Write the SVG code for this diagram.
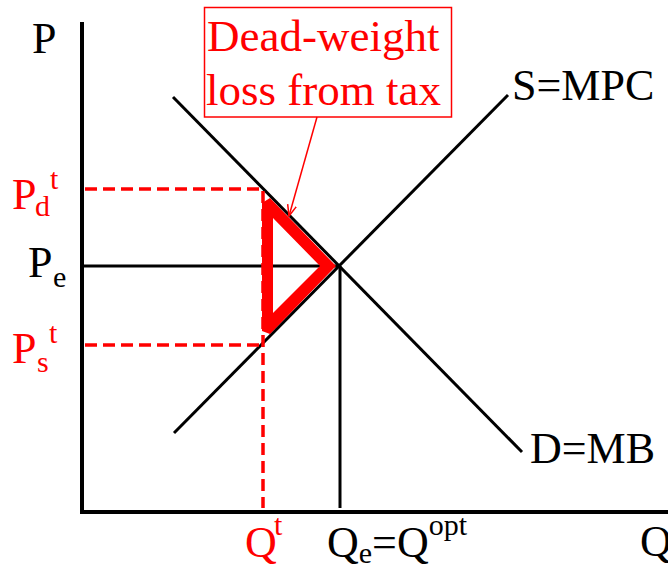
<svg xmlns="http://www.w3.org/2000/svg" width="668" height="565" viewBox="0 0 668 565">
<style>
text{font-family:'Liberation Serif','Times New Roman',serif;font-size:44px;}
.s{font-size:30px;}
.b{font-size:45px;}
.k{fill:#000;}
.r{fill:#ff0000;}
.ax{stroke:#000;stroke-width:4;fill:none;}
.ln{stroke:#000;stroke-width:3;fill:none;}
.dash{stroke:#ff0000;stroke-width:3.5;stroke-dasharray:12 6;fill:none;}
</style>
<defs>
<marker id="arr" viewBox="0 0 12 12" refX="11" refY="6" markerWidth="12" markerHeight="12" markerUnits="userSpaceOnUse" orient="auto">
<path d="M0,1.5 L11,6 L0,10.5" fill="none" stroke="#ff0000" stroke-width="1.5"/>
</marker>
</defs>
<rect width="668" height="565" fill="#fff"/>
<g id="connectors">
<line class="ax" x1="82" y1="22" x2="82" y2="514"/>
<line class="ax" x1="80" y1="512" x2="668" y2="512"/>
<line class="ln" x1="173" y1="97" x2="522" y2="452"/>
<line class="ln" x1="174" y1="433" x2="508" y2="95"/>
<line class="ln" x1="84" y1="266" x2="340" y2="266"/>
<line class="ln" x1="340" y1="266" x2="340" y2="508"/>
<polyline class="dash" points="85,189 263,189 263,508"/>
<line class="dash" x1="85" y1="345" x2="263" y2="345"/>
<line x1="317" y1="117" x2="289" y2="216" stroke="#ff0000" stroke-width="1.5" marker-end="url(#arr)"/>
</g>
<g id="dwl-triangle">
<path fill="#ff0000" fill-rule="evenodd" d="M262,203 L270,198 L336,266 L270,334 L262,331 Z M273,218 L273,313 L320,266 Z"/>
</g>
<g id="dwl-label">
<rect x="204.5" y="7.5" width="247" height="109.5" fill="none" stroke="#ff0000" stroke-width="1.5"/>
<text class="r b" x="207" y="51">Dead-weight</text>
<text class="r b" x="206" y="105">loss from tax</text>
</g>
<g id="axis-labels">
<text class="k" x="32" y="53">P</text>
<text class="k" x="640" y="556">Q</text>
</g>
<g id="supply"><text class="k" x="512" y="100">S=MPC</text></g>
<g id="demand"><text class="k" x="530" y="463">D=MB</text></g>
<g id="pdt"><text class="r" x="12" y="209">P<tspan class="s" x="35" y="216">d</tspan><tspan class="s" x="50" y="189">t</tspan></text></g>
<g id="pe"><text class="k" x="28" y="277">P<tspan class="s" x="53" y="287">e</tspan></text></g>
<g id="pst"><text class="r" x="12" y="363">P<tspan class="s" x="37" y="372">s</tspan><tspan class="s" x="49" y="343">t</tspan></text></g>
<g id="qt"><text class="r" x="245" y="557">Q<tspan class="s" x="274" y="535">t</tspan></text></g>
<g id="qe"><text class="k" x="327" y="557">Q<tspan class="s" y="563">e</tspan><tspan y="557">=Q</tspan><tspan class="s" y="535">opt</tspan></text></g>
</svg>
